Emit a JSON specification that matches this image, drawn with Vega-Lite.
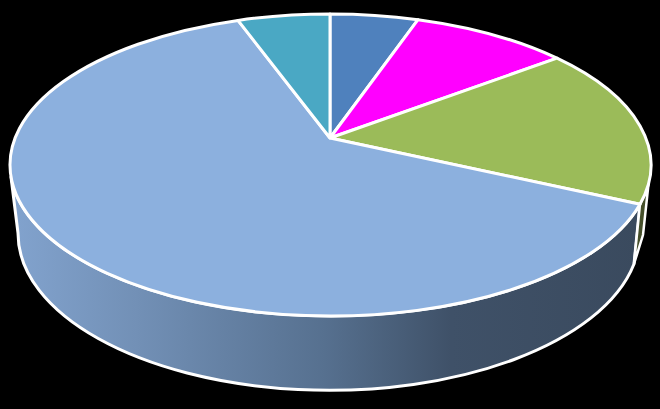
{
  "$schema": "https://vega.github.io/schema/vega-lite/v6.json",
  "width": 660,
  "height": 409,
  "padding": 0,
  "autosize": {"type": "none"},
  "background": "#000000",
  "view": {"stroke": null},
  "encoding": {
    "size": {"value": 435600},
    "shape": {
      "field": "slice",
      "type": "nominal",
      "legend": null,
      "scale": {
        "domain": ["Side main", "Side green", "A", "B", "C", "D", "E"],
        "range": [
          "M -0.96667 -0.08333 L -0.94545 0.08636 A 0.94242 0.47576 0 0 0 0.92121 0.1803 L 0.93939 -0.00091 A 0.97121 0.45758 0 0 1 -0.96667 -0.08333 Z",
          "M 0.93939 -0.00091 A 0.97121 0.45758 0 0 0 0.96515 -0.06212 L 0.94848 0.09242 L 0.92121 0.1803 Z",
          "M 0 -0.20152 L 0 -0.57727 A 0.97121 0.45758 0 0 1 0.26667 -0.56 Z",
          "M 0 -0.20152 L 0.26667 -0.56 A 0.97121 0.45758 0 0 1 0.68788 -0.44333 Z",
          "M 0 -0.20152 L 0.68788 -0.44333 A 0.97121 0.45758 0 0 1 0.93939 -0.00091 Z",
          "M 0 -0.20152 L 0.93939 -0.00091 A 0.97121 0.45758 0 1 1 -0.27879 -0.55788 Z",
          "M 0 -0.20152 L -0.27879 -0.55788 A 0.97121 0.45758 0 0 1 0 -0.57727 Z"
        ]
      }
    }
  },
  "layer": [
    {
      "data": {"values": [{"slice": "Side main"}]},
      "mark": {
        "type": "point",
        "filled": true,
        "opacity": 1,
        "stroke": "#ffffff",
        "strokeWidth": 3,
        "strokeJoin": "round",
        "fill": {
          "gradient": "linear",
          "x1": 0, "y1": 0, "x2": 1, "y2": 0,
          "stops": [
            {"offset": 0, "color": "#82a3ce"},
            {"offset": 0.2, "color": "#7290b6"},
            {"offset": 0.5, "color": "#56708f"},
            {"offset": 0.7, "color": "#3f5168"},
            {"offset": 1, "color": "#3a4a5e"}
          ]
        }
      }
    },
    {
      "data": {"values": [{"slice": "Side green"}]},
      "mark": {
        "type": "point",
        "filled": true,
        "opacity": 1,
        "stroke": "#ffffff",
        "strokeWidth": 2.5,
        "strokeJoin": "round",
        "fill": "#454f2a"
      }
    },
    {
      "data": {
        "values": [
          {"slice": "A", "share": 6},
          {"slice": "B", "share": 10},
          {"slice": "C", "share": 17},
          {"slice": "D", "share": 61},
          {"slice": "E", "share": 6}
        ]
      },
      "mark": {
        "type": "point",
        "filled": true,
        "opacity": 1,
        "stroke": "#ffffff",
        "strokeWidth": 3,
        "strokeJoin": "round"
      },
      "encoding": {
        "fill": {
          "field": "slice",
          "type": "nominal",
          "legend": null,
          "scale": {
            "domain": ["A", "B", "C", "D", "E"],
            "range": ["#4f81bd", "#ff00ff", "#9bbb59", "#8cb0de", "#4aa8c4"]
          }
        }
      }
    }
  ]
}
